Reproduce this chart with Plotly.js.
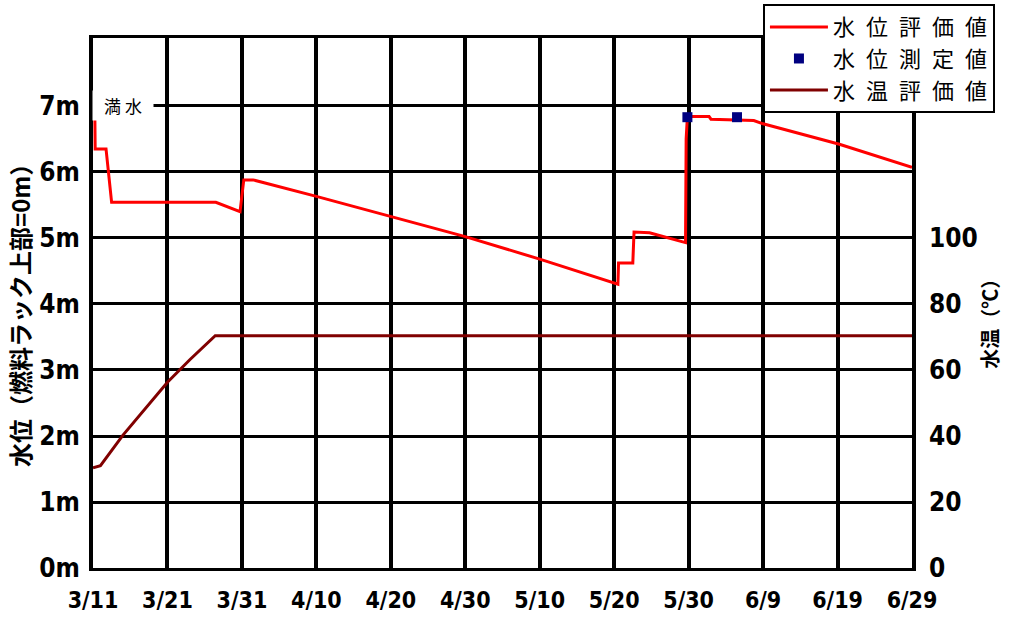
<!DOCTYPE html>
<html>
<head>
<meta charset="utf-8">
<script src="https://cdn.plot.ly/plotly-3.0.1.min.js"></script>
<style>
html,body{margin:0;padding:0;background:#fff;}
#chart{width:1014px;height:619px;}
</style>
</head>
<body>
<div id="chart"></div>
<script>
// ---- data ----
const levelDates = [
  "2011-03-11 06:00","2011-03-11 07:00","2011-03-12 18:00","2011-03-13 12:00",
  "2011-03-27 12:00","2011-03-29 00:00","2011-03-30 18:00","2011-03-31 06:00",
  "2011-04-01 12:00","2011-04-10","2011-04-20","2011-04-30","2011-05-10",
  "2011-05-20 12:00","2011-05-20 14:00","2011-05-22 12:00","2011-05-22 16:00",
  "2011-05-24 18:00","2011-05-29 14:00","2011-05-29 16:00","2011-05-29 20:00",
  "2011-06-01 18:00","2011-06-02","2011-06-07 18:00","2011-06-09",
  "2011-06-19 06:00","2011-06-29"
];
const levelValues = [
  6.83,6.35,6.35,5.54,
  5.54,5.48,5.40,5.88,
  5.88,5.63,5.32,5.02,4.68,
  4.30,4.62,4.62,5.09,
  5.08,4.93,6.50,6.84,
  6.84,6.80,6.78,6.73,
  6.42,6.07
];
const measuredDates = ["2011-05-29 20:00","2011-06-05 12:00"];
const measuredValues = [6.83,6.83];
const tempDates = ["2011-03-11","2011-03-12","2011-03-15","2011-03-18","2011-03-21","2011-03-24","2011-03-27 10:00","2011-06-29"];
const tempValues = [30.4,31,40.2,48.3,56.3,63.1,70.4,70.4];

const xTickVals = ["2011-03-11","2011-03-21","2011-03-31","2011-04-10","2011-04-20","2011-04-30","2011-05-10","2011-05-20","2011-05-30","2011-06-09","2011-06-19","2011-06-29"];
const xTickText = ["3/11","3/21","3/31","4/10","4/20","4/30","5/10","5/20","5/30","6/9","6/19","6/29"];
const levelTickVals = [0,1,2,3,4,5,6,7];
const levelTickText = ["0m","1m","2m","3m","4m","5m","6m","7m"];
const tempTickVals = [0,20,40,60,80,100];
const tempTickText = ["0","20","40","60","80","100"];

const names = ["水\u2002位\u2002評\u2002価\u2002値","水\u2002位\u2002測\u2002定\u2002値","水\u2002温\u2002評\u2002価\u2002値"];
const fullLabel = "満 水";
const fullLevel = 7;
const leftTitle = "水位（燃料ラック上部=0m）";
const rightTitle = "水温（℃）";

// ---- chart ----
const condensed = "Liberation Sans Narrow, DejaVu Sans Condensed, Arial Narrow, sans-serif";
const yTickFont = {family:condensed, size:26, color:"#000", weight:"bold"};
const xTickFont = {family:condensed, size:23, color:"#000", weight:"bold"};
const cjk = "Noto Sans CJK JP, sans-serif";

const traces = [
  {x:levelDates, y:levelValues, name:names[0], type:"scatter", mode:"lines",
   line:{color:"#ff0000", width:3}, yaxis:"y"},
  {x:measuredDates, y:measuredValues, name:names[1], type:"scatter", mode:"markers",
   marker:{color:"#000080", size:10, symbol:"square"}, yaxis:"y"},
  {x:tempDates, y:tempValues, name:names[2], type:"scatter", mode:"lines",
   line:{color:"#800000", width:3}, yaxis:"y2"}
];

const layout = {
  width:1014, height:619,
  margin:{l:93, r:102, t:38, b:51, autoexpand:false},
  paper_bgcolor:"#fff", plot_bgcolor:"#fff",
  showlegend:true,
  legend:{x:0.818, y:1.064, xanchor:"left", yanchor:"top",
    bgcolor:"#fff", bordercolor:"#000", borderwidth:2, itemwidth:58,
    font:{family:cjk, size:22, color:"#000"}, tracegroupgap:0},
  xaxis:{type:"date", range:["2011-03-11","2011-06-29"],
    tickmode:"array", tickvals:xTickVals, ticktext:xTickText,
    showgrid:true, gridcolor:"#000", gridwidth:4,
    showline:true, linecolor:"#000", linewidth:3, mirror:true,
    ticks:"", ticklabelstandoff:9, tickfont:xTickFont, zeroline:false},
  yaxis:{range:[0,8.03], tickmode:"array", tickvals:levelTickVals, ticktext:levelTickText,
    showgrid:true, gridcolor:"#000", gridwidth:3,
    showline:true, linecolor:"#000", linewidth:4, mirror:true,
    ticks:"", ticklabelstandoff:4, tickfont:yTickFont, zeroline:false},
  yaxis2:{range:[0,160.6], overlaying:"y", side:"right",
    tickmode:"array", tickvals:tempTickVals, ticktext:tempTickText,
    showgrid:false, showline:false, ticks:"", ticklabelstandoff:16,
    tickfont:yTickFont, zeroline:false},
  annotations:[
    {xref:"x", yref:"y", x:"2011-03-15", y:fullLevel, text:fullLabel, showarrow:false,
     font:{family:cjk, size:17, color:"#000"}, bgcolor:"#fff", borderpad:2,
     xanchor:"center", yanchor:"middle", width:56},
    {xref:"paper", yref:"paper", x:-0.089, y:0.487, text:leftTitle, showarrow:false,
     textangle:-90, font:{family:cjk, size:24, color:"#000", weight:"bold"},
     xanchor:"center", yanchor:"middle"},
    {xref:"paper", yref:"paper", x:1.095, y:0.47, text:rightTitle, showarrow:false,
     textangle:-90, font:{family:cjk, size:20, color:"#000", weight:"bold"},
     xanchor:"center", yanchor:"middle"}
  ]
};

Plotly.newPlot("chart", traces, layout, {displayModeBar:false, staticPlot:true});
</script>
</body>
</html>
